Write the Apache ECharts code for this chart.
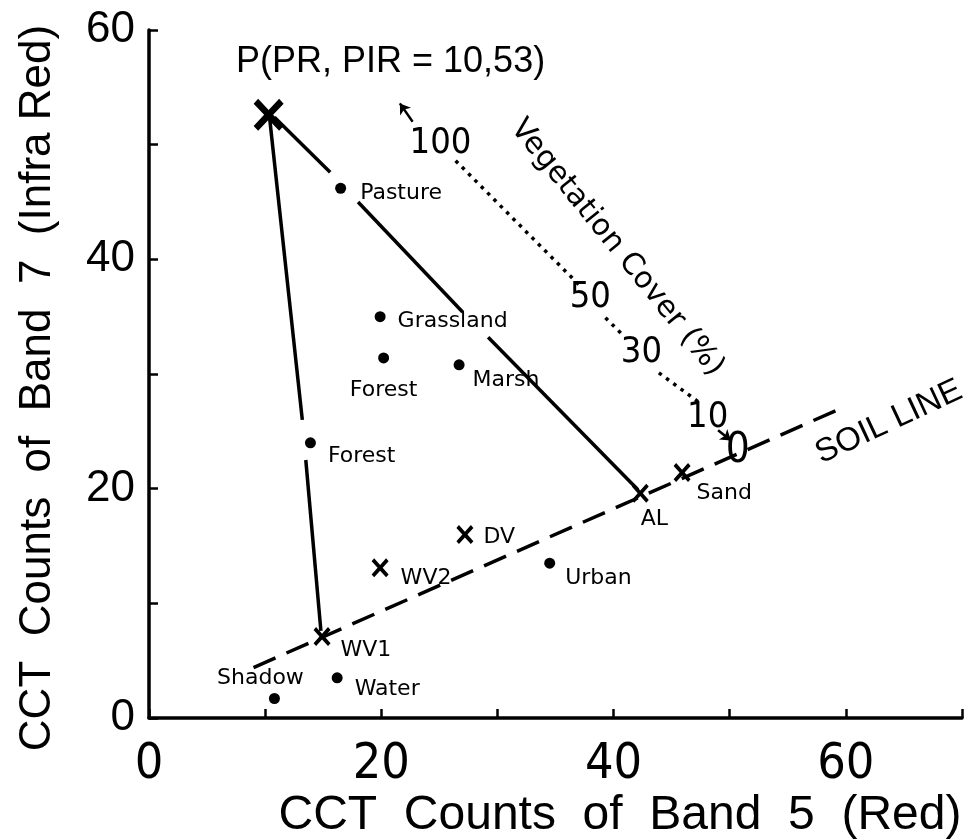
<!DOCTYPE html>
<html>
<head>
<meta charset="utf-8">
<script src="https://cdn.jsdelivr.net/npm/echarts@6/dist/echarts.min.js"></script>
<style>html,body{margin:0;padding:0;background:#fff;}#c{width:969px;height:840px;}</style>
</head>
<body>
<div id="c"></div>
<script>
// ---- data ----
const xTicks = [0, 20, 40, 60];
const yTicks = [0, 20, 40, 60];

const dotNames = ['Pasture', 'Grassland', 'Forest', 'Marsh', 'Forest', 'Urban', 'Water', 'Shadow'];
const dotX = [16.5, 19.9, 20.2, 26.7, 13.9, 34.5, 16.2, 10.8];
const dotY = [46.2, 35.0, 31.4, 30.8, 24.0, 13.5, 3.5, 1.7];

const crossNames = ['P', 'AL', 'Sand', 'DV', 'WV2', 'WV1'];
const crossX = [10.3, 42.3, 45.9, 27.2, 19.9, 14.9];
const crossY = [52.6, 19.6, 21.4, 16.0, 13.1, 7.1];

const soilLine = [[9.0, 4.4], [59.8, 27.1]];
const pToWV1 = [[[10.4, 52.2], [13.2, 26.0]], [[13.5, 22.5], [14.8, 7.6]]];
const pToAL = [[[10.8, 52.4], [15.6, 47.6]], [[18.0, 45.0], [27.0, 35.4]], [[29.2, 33.2], [42.1, 19.9]]];

const vegLabels = ['100', '50', '30', '10', '0'];
const vegX = [25.1, 38.0, 42.4, 48.1, 50.7];
const vegY = [50.1, 36.7, 31.9, 26.2, 23.3];
const vegDotted = [[[26.4, 48.6], [37.0, 37.8]], [[39.3, 34.9], [40.8, 33.4]], [[43.9, 30.1], [47.4, 27.5]]];
const vegArrowUp = [[22.7, 52.0], [21.6, 53.6]];
const vegArrowDown = [[49.0, 25.1], [50.1, 24.2]];

const titleText = 'P(PR, PIR = 10,53)';
const titlePos = [20.8, 57.2];
const vegTitle = 'Vegetation Cover (%)';
const vegTitlePos = [40.3, 41.0];
const soilText = 'SOIL LINE';
const soilTextPos = [63.7, 25.8];

// ---- styles ----
const smallFont = 'DejaVu Sans';
const condFont = '"DejaVu Sans Condensed", "Liberation Sans", sans-serif';
const dotLabelStyle = {
  'Pasture':  {position: 'right', distance: 14, offset: [0, 5]},
  'Grassland':{position: 'right', distance: 12, offset: [0, 5]},
  'Forest0':  {position: 'bottom', distance: 16, offset: [0, 0]},
  'Marsh':    {position: 'right', distance: 8, offset: [0, 15]},
  'Forest1':  {position: 'right', distance: 12, offset: [0, 13]},
  'Urban':    {position: 'right', distance: 10, offset: [0, 15]},
  'Water':    {position: 'right', distance: 12, offset: [0, 11]},
  'Shadow':   {position: 'top', distance: 4, offset: [-14, 0]}
};
const crossLabelStyle = {
  'P':    {show: false},
  'AL':   {position: 'bottom', distance: 6, offset: [14, 0]},
  'Sand': {position: 'right', distance: 6, offset: [0, 21]},
  'DV':   {position: 'right', distance: 10, offset: [0, 3]},
  'WV2':  {position: 'right', distance: 12, offset: [0, 10]},
  'WV1':  {position: 'right', distance: 10, offset: [0, 14]}
};
const crossPath = 'path://M0,3L3,0L10,7L17,0L20,3L13,10L20,17L17,20L10,13L3,20L0,17L7,10Z';

let forestCount = 0;
const dotData = dotNames.map((n, i) => {
  let key = n;
  if (n === 'Forest') { key = 'Forest' + forestCount; forestCount++; }
  const s = dotLabelStyle[key];
  return {name: n, value: [dotX[i], dotY[i]],
    label: {show: true, position: s.position, distance: s.distance, offset: s.offset}};
});
const crossData = crossNames.map((n, i) => {
  const s = crossLabelStyle[n];
  const big = n === 'P';
  return {name: n, value: [crossX[i], crossY[i]],
    symbolSize: big ? [30, 32] : [17, 19],
    label: Object.assign({show: true}, s)};
});

function segs(list) { return list.map(c => ({coords: c})); }

const chart = echarts.init(document.getElementById('c'), null, {renderer: 'canvas'});
chart.setOption({
  backgroundColor: '#fff',
  animation: false,
  grid: {left: 149, right: 7, top: 30, bottom: 122},
  xAxis: {
    type: 'value', min: 0, max: 70, interval: 10,
    axisLine: {show: true, lineStyle: {color: '#000', width: 3.5}},
    axisTick: {show: true, inside: true, length: 9, lineStyle: {color: '#000', width: 2.5}},
    splitLine: {show: false},
    axisLabel: {
      margin: 22, color: '#000', fontFamily: condFont, fontSize: 50,
      formatter: v => (xTicks.indexOf(v) >= 0 ? String(v) : '')
    }
  },
  yAxis: {
    type: 'value', min: 0, max: 60, interval: 10,
    axisLine: {show: true, lineStyle: {color: '#000', width: 3.5}},
    axisTick: {show: true, inside: true, length: 9, lineStyle: {color: '#000', width: 2.5}},
    splitLine: {show: false},
    axisLabel: {
      margin: 14, color: '#000', fontFamily: 'Liberation Sans', fontSize: 44,
      formatter: v => (yTicks.indexOf(v) >= 0 ? String(v) : '')
    }
  },
  graphic: [
    {type: 'text', x: 620, y: 816, style: {text: 'CCT  Counts  of  Band  5  (Red)', fill: '#000',
      font: '48px "Liberation Sans"', textAlign: 'center', textVerticalAlign: 'middle'}},
    {type: 'text', x: 38, y: 388, rotation: Math.PI / 2, style: {text: 'CCT  Counts  of  Band  7  (Infra Red)', fill: '#000',
      font: '44px "Liberation Sans"', textAlign: 'center', textVerticalAlign: 'middle'}}
  ],
  series: [
    {type: 'lines', coordinateSystem: 'cartesian2d', silent: true, z: 2,
      lineStyle: {color: '#000', width: 3.5, type: [24, 12], opacity: 1},
      data: segs([soilLine])},
    {type: 'lines', coordinateSystem: 'cartesian2d', silent: true, z: 2,
      lineStyle: {color: '#000', width: 3.5, type: 'solid', opacity: 1},
      data: segs(pToWV1.concat(pToAL))},
    {type: 'lines', coordinateSystem: 'cartesian2d', silent: true, z: 2,
      lineStyle: {color: '#000', width: 3.5, type: [3.5, 5.5], opacity: 1},
      data: segs(vegDotted)},
    {type: 'lines', coordinateSystem: 'cartesian2d', silent: true, z: 2,
      symbol: ['none', 'arrow'], symbolSize: 10,
      lineStyle: {color: '#000', width: 2.5, type: 'solid', opacity: 1},
      data: segs([vegArrowUp, vegArrowDown])},
    {type: 'scatter', z: 5, symbol: 'circle', symbolSize: 11, silent: true,
      itemStyle: {color: '#000', opacity: 1},
      label: {color: '#000', fontFamily: smallFont, fontSize: 22, formatter: '{b}'},
      data: dotData},
    {type: 'scatter', z: 5, symbol: crossPath, silent: true,
      itemStyle: {color: '#000', opacity: 1},
      label: {color: '#000', fontFamily: smallFont, fontSize: 22, formatter: '{b}'},
      data: crossData},
    {type: 'scatter', z: 6, symbolSize: 0, silent: true,
      itemStyle: {opacity: 1},
      label: {show: true, position: 'inside', color: '#000', fontFamily: condFont, fontSize: 36, formatter: '{b}'},
      data: vegLabels.map((t, i) => ({name: t, value: [vegX[i], vegY[i]],
        label: t === '0' ? {fontSize: 42} : {}}))},
    {type: 'scatter', z: 6, symbolSize: 0, silent: true,
      itemStyle: {opacity: 1},
      label: {show: true, position: 'inside', color: '#000', formatter: '{b}'},
      data: [
        {name: titleText, value: titlePos, label: {fontFamily: 'Liberation Sans', fontSize: 36}},
        {name: vegTitle, value: vegTitlePos, label: {fontFamily: 'DejaVu Sans', fontSize: 30, rotate: -51}},
        {name: soilText, value: soilTextPos, label: {fontFamily: 'Liberation Sans', fontSize: 33, rotate: 25}}
      ]}
  ]
});
</script>
</body>
</html>
